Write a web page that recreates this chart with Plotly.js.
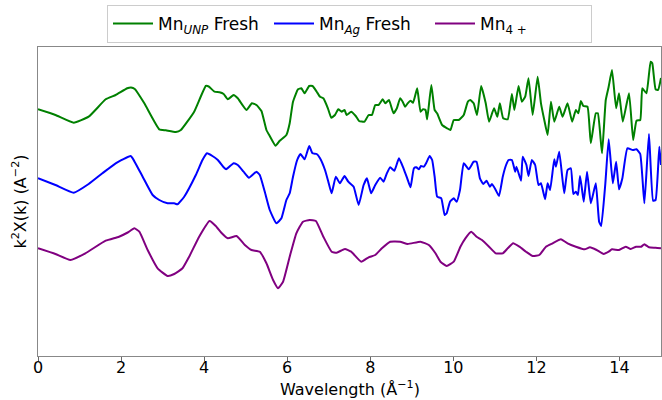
<!DOCTYPE html>
<html>
<head>
<meta charset="utf-8">
<script src="https://cdn.plot.ly/plotly-3.0.1.min.js"></script>
<style>html,body{margin:0;padding:0;background:#fff;}#chart{width:662px;height:400px;}</style>
</head>
<body>
<div id="chart"></div>
<script>
// Mn_UNP Fresh (green)
const unpX = [0,0.42,0.86,1.22,1.63,1.87,2.15,2.24,2.33,2.56,2.92,3.08,3.32,3.44,3.76,4.04,4.11,4.25,4.37,4.47,4.57,4.71,4.81,5.02,5.15,5.26,5.38,5.50,5.58,5.72,5.82,5.98,6.06,6.14,6.26,6.34,6.42,6.53,6.61,6.71,6.79,6.87,6.98,7.06,7.15,7.23,7.31,7.38,7.43,7.54,7.65,7.73,7.86,7.96,8.04,8.12,8.20,8.30,8.36,8.45,8.56,8.64,8.72,8.78,8.84,8.90,8.97,9.03,9.13,9.21,9.27,9.33,9.37,9.47,9.55,9.61,9.73,9.85,9.93,10.01,10.13,10.25,10.35,10.41,10.49,10.57,10.67,10.78,10.86,10.98,11.06,11.12,11.20,11.31,11.41,11.47,11.57,11.65,11.73,11.81,11.91,12.03,12.11,12.19,12.27,12.35,12.43,12.55,12.63,12.75,12.86,12.95,13.01,13.07,13.13,13.23,13.31,13.43,13.48,13.58,13.67,13.74,13.82,13.92,13.99,14.08,14.23,14.33,14.41,14.50,14.55,14.65,14.75,14.79,14.87,14.93,15.0];
const unpY = [24.67,24.1,23.33,23.93,25.67,26.1,26.77,26.85,26.7,25.27,22.67,22.57,22.4,22.6,24.43,27.0,26.95,26.43,26.37,26.2,25.67,26.1,25.77,24.6,25.27,25.1,24.5,22.6,22.0,21.03,21.53,22.1,23.27,25.43,26.67,26.77,26.27,27.0,27.0,26.43,25.93,25.77,24.77,23.83,24.1,24.67,24.43,24.6,24.1,24.43,24.0,23.5,23.43,24.1,24.1,25.1,25.1,25.67,25.27,25.6,24.27,24.77,25.77,25.43,24.93,25.27,25.53,25.33,26.77,24.43,24.67,24.6,23.67,27.1,24.6,24.27,23.1,22.77,22.6,23.6,23.6,24.1,25.43,25.6,25.27,24.1,27.0,25.27,23.43,24.77,23.93,25.27,23.77,23.67,26.2,24.6,27.0,25.43,25.93,27.77,24.1,27.93,25.27,23.6,22.1,25.43,23.43,24.93,23.93,25.27,23.43,24.6,24.27,25.5,25.0,24.93,21.27,24.27,24.27,20.27,25.6,26.93,28.6,24.77,26.27,23.43,26.27,21.6,23.53,23.6,26.77,26.27,29.43,29.27,26.67,26.6,27.8];

// Mn_Ag Fresh (blue)
const agX = [0,0.42,0.86,1.22,1.55,1.87,2.23,2.28,2.52,2.76,2.92,3.12,3.28,3.36,3.52,3.80,3.96,4.07,4.20,4.33,4.47,4.53,4.71,4.81,4.95,5.08,5.26,5.34,5.46,5.58,5.74,5.86,5.98,6.06,6.14,6.24,6.32,6.42,6.53,6.61,6.71,6.79,6.91,6.99,7.07,7.17,7.27,7.38,7.47,7.60,7.72,7.84,7.92,8.02,8.12,8.24,8.32,8.40,8.48,8.58,8.69,8.80,8.89,8.97,9.05,9.11,9.17,9.22,9.29,9.35,9.43,9.49,9.55,9.61,9.71,9.79,9.84,9.92,10.01,10.08,10.16,10.25,10.37,10.49,10.56,10.64,10.72,10.80,10.88,10.93,11.02,11.10,11.19,11.27,11.33,11.41,11.49,11.52,11.63,11.67,11.76,11.81,11.89,11.97,12.05,12.11,12.21,12.27,12.33,12.43,12.47,12.55,12.67,12.75,12.83,12.89,12.95,13.0,13.05,13.10,13.14,13.22,13.31,13.43,13.51,13.56,13.66,13.74,13.84,13.92,13.99,14.07,14.19,14.32,14.41,14.50,14.60,14.71,14.81,14.87,14.96,15.0];
const agY = [17.77,17.1,16.33,17.2,18.27,19.27,20.0,19.77,17.93,16.1,15.6,15.27,15.27,15.17,15.93,18.1,19.6,20.27,20.0,19.6,18.87,18.67,19.27,19.1,18.43,17.83,18.43,18.1,16.43,14.6,13.27,13.77,15.6,16.27,17.93,19.6,20.2,19.67,21.0,20.27,20.2,19.77,18.6,17.43,16.27,17.93,17.27,18.0,17.43,16.93,15.1,17.1,17.77,16.27,17.1,17.83,17.43,18.27,18.87,18.53,19.77,18.77,17.77,16.87,18.77,18.87,18.67,19.0,18.93,19.33,20.0,19.6,17.93,15.93,15.77,14.1,14.27,15.43,15.77,15.43,16.6,19.27,18.67,19.43,19.43,17.77,17.2,17.53,16.93,17.2,16.6,16.0,17.93,19.1,19.6,19.6,18.43,18.93,17.53,19.93,19.1,18.0,19.6,19.1,17.1,17.27,15.67,17.27,16.6,19.67,18.93,20.43,16.27,18.6,18.77,16.2,16.43,16.1,18.0,16.6,15.43,18.43,15.27,17.27,13.43,13.0,17.27,21.67,17.27,19.43,16.67,17.77,20.77,20.6,20.67,20.2,15.27,22.2,15.53,15.6,20.93,19.1];

// Mn4+ (purple)
const mn4X = [0,0.42,0.78,1.14,1.63,1.95,2.16,2.32,2.44,2.64,2.88,3.12,3.28,3.48,3.64,3.88,4.13,4.28,4.42,4.57,4.78,4.98,5.14,5.34,5.50,5.66,5.78,5.90,6.06,6.22,6.38,6.54,6.69,6.87,7.07,7.19,7.39,7.54,7.78,7.96,8.12,8.28,8.48,8.72,8.90,9.21,9.41,9.57,9.69,9.84,10.01,10.17,10.29,10.43,10.56,10.69,10.86,11.02,11.19,11.31,11.44,11.59,11.75,11.91,12.07,12.23,12.39,12.59,12.75,12.95,13.16,13.29,13.45,13.62,13.74,13.82,13.99,14.15,14.27,14.40,14.52,14.60,14.71,14.87,15.0];
const mn4Y = [10.77,10.2,9.6,10.27,11.53,11.93,12.35,12.77,12.43,10.6,8.77,8.0,8.2,8.77,9.93,11.93,13.5,13.0,12.3,11.77,12.0,11.1,10.6,10.43,9.27,7.6,6.77,7.43,9.93,12.27,13.43,13.6,13.5,11.93,10.43,10.33,10.7,10.43,9.43,9.87,10.1,10.77,11.43,11.43,11.2,11.43,11.1,10.27,9.43,9.0,9.43,10.93,11.77,12.43,11.93,11.6,10.93,10.27,10.27,10.77,11.27,10.93,10.43,10.0,10.1,10.93,11.27,11.67,11.27,10.93,10.67,10.87,10.6,10.2,10.43,10.67,10.6,10.93,10.7,10.93,10.93,11.17,10.87,10.83,10.77];

const seriesNames = ['Mn<sub><i>UNP</i></sub> Fresh', 'Mn<sub><i>Ag</i></sub> Fresh', 'Mn<sub>4 +</sub>'];
const seriesColors = ['#008000', '#0000ff', '#800080'];
const xTicks = [0, 2, 4, 6, 8, 10, 12, 14];
const xTitle = 'Wavelength (Å<sup>−1</sup>)';
const yTitle = 'k<sup>2</sup>X(k) (A<sup>−2</sup>)';

const xs = [unpX, agX, mn4X];
const ys = [unpY, agY, mn4Y];
const traces = xs.map((x, i) => ({
  x: x, y: ys[i], type: 'scatter', mode: 'lines', name: seriesNames[i],
  line: {color: seriesColors[i], width: 2, shape: 'spline', smoothing: 0.4}
}));

const font = 'DejaVu Sans, Arial, sans-serif';
const layout = {
  width: 662, height: 400,
  margin: {l: 38, r: 1, t: 47, b: 44, pad: 0},
  paper_bgcolor: '#ffffff', plot_bgcolor: '#ffffff',
  font: {family: font, size: 16, color: '#000'},
  showlegend: true,
  legend: {
    orientation: 'h', x: 0.5, xanchor: 'center', y: 1.013, yanchor: 'bottom',
    bordercolor: '#cccccc', borderwidth: 1, bgcolor: '#ffffff',
    itemwidth: 40, entrywidth: 106, entrywidthmode: 'pixels',
    font: {family: font, size: 17, color: '#000'}
  },
  xaxis: {
    range: [0, 15], tickvals: xTicks, ticktext: xTicks.map(String),
    ticks: 'outside', ticklen: 4, tickcolor: '#666', tickwidth: 1,
    ticklabelstandoff: -7,
    showline: true, linecolor: '#888', linewidth: 1, mirror: true,
    showgrid: false, zeroline: false,
    tickfont: {family: font, size: 16, color: '#000'}
  },
  yaxis: {
    range: [0, 30.9], showticklabels: false, ticks: '',
    showline: true, linecolor: '#888', linewidth: 1, mirror: true,
    showgrid: false, zeroline: false,
    title: {text: yTitle, font: {family: font, size: 16, color: '#000'}, standoff: 6}
  },
  annotations: [{
    text: xTitle, xref: 'paper', yref: 'paper', x: 0.5, y: -0.104,
    xanchor: 'center', yanchor: 'middle', showarrow: false,
    font: {family: font, size: 16, color: '#000'}
  }]
};

Plotly.newPlot('chart', traces, layout, {displayModeBar: false, staticPlot: true});
</script>
</body>
</html>
